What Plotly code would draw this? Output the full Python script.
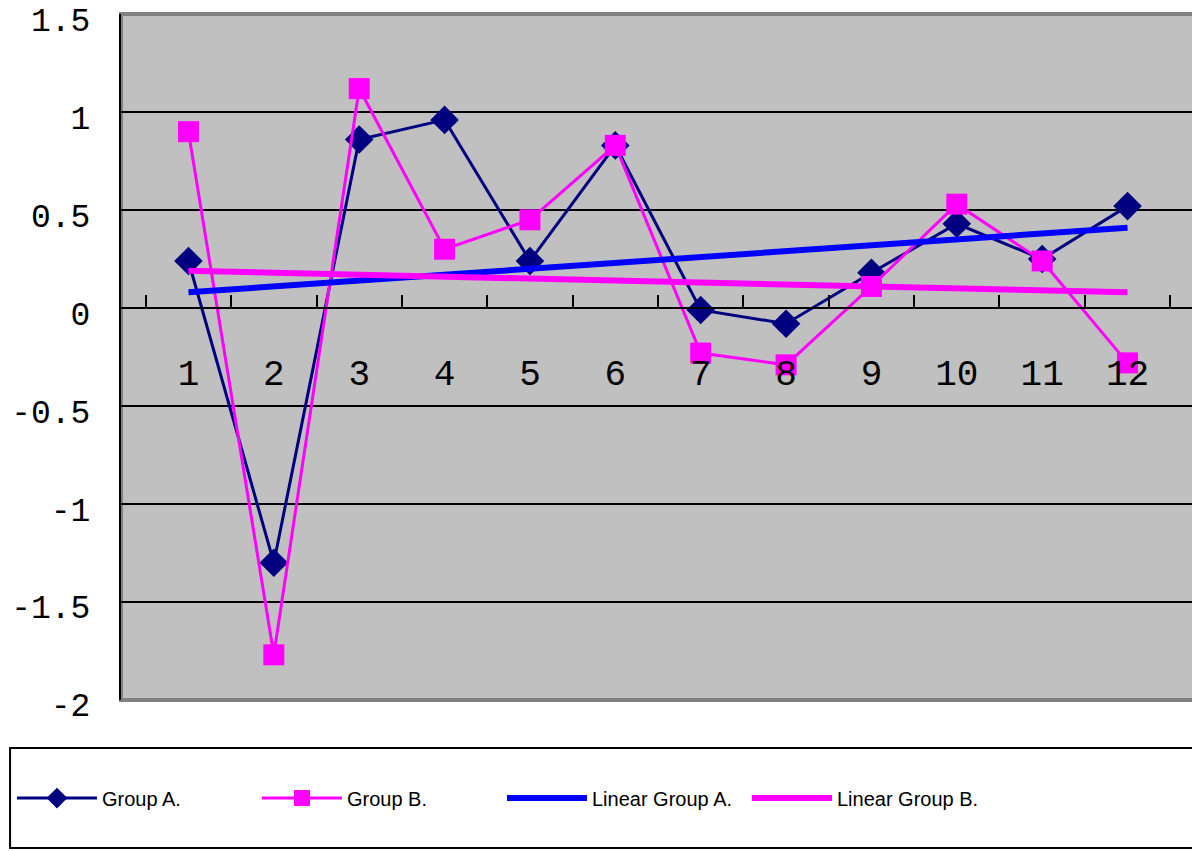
import plotly.graph_objects as go

# category labels and series
months = [str(i) for i in range(1, 13)]
group_a = [0.24, -1.30, 0.86, 0.96, 0.24, 0.83, -0.01, -0.08, 0.18, 0.43, 0.25, 0.52]
group_b = [0.90, -1.77, 1.12, 0.30, 0.45, 0.83, -0.23, -0.29, 0.11, 0.53, 0.24, -0.28]

# linear trend endpoints (first and last category)
trend_x = ["1", "12"]
trend_a = [0.08, 0.41]
trend_b = [0.19, 0.08]

y_ticks = [1.5, 1, 0.5, 0, -0.5, -1, -1.5, -2]
y_tick_text = ["1.5", "1", "0.5", "0", "-0.5", "-1", "-1.5", "-2"]

NAVY = "#000080"
MAGENTA = "#FF00FF"
BLUE = "#0000FF"
MONO = "Liberation Mono, DejaVu Sans Mono, monospace"

fig = go.Figure()

fig.add_trace(go.Scatter(
    x=months, y=group_a, mode="lines+markers", name="Group A.",
    line=dict(color=NAVY, width=3),
    marker=dict(symbol="diamond", size=22, color=NAVY)
))
fig.add_trace(go.Scatter(
    x=months, y=group_b, mode="lines+markers", name="Group B.",
    line=dict(color=MAGENTA, width=3),
    marker=dict(symbol="square", size=21, color=MAGENTA)
))
fig.add_trace(go.Scatter(
    x=trend_x, y=trend_a, mode="lines", name="Linear Group A.",
    line=dict(color=BLUE, width=6)
))
fig.add_trace(go.Scatter(
    x=trend_x, y=trend_b, mode="lines", name="Linear Group B.",
    line=dict(color=MAGENTA, width=6)
))

# y range [-2, 1.5] -> zero sits at 2/3.5 of the plot height
zero_pos = 2 / 3.5

# page body keeps an 8px margin, so the figure is sized to fit inside it
fig.update_layout(
    width=1192, height=843,
    margin=dict(l=112, r=5, t=6, b=151),
    paper_bgcolor="white",
    plot_bgcolor="#C0C0C0",
    font=dict(family=MONO, color="black"),
    showlegend=True,
    legend=dict(
        orientation="h", x=-0.1005, xanchor="left", y=-0.143, yanchor="middle",
        font=dict(family="Liberation Sans Narrow, Liberation Sans, Arial", size=20, color="black"),
        bgcolor="rgba(0,0,0,0)", entrywidth=150, itemwidth=80,
        traceorder="normal"
    ),
    xaxis=dict(
        type="category", categoryorder="array", categoryarray=months,
        anchor="free", position=zero_pos, automargin=False,
        showline=True, linecolor="black", linewidth=2,
        ticks="inside", ticklen=12, tickwidth=2, tickcolor="black",
        tickson="boundaries", showgrid=False, zeroline=False,
        ticklabelstandoff=33,
        tickfont=dict(size=36, family=MONO)
    ),
    yaxis=dict(
        range=[-2.0005, 1.5005], tickvals=y_ticks, ticktext=y_tick_text,
        automargin=False, ticklabeloverflow="allow",
        showgrid=True, gridcolor="black", gridwidth=2,
        zeroline=False, showline=True, linecolor="black", linewidth=2,
        ticks="inside", ticklen=10, tickcolor="black", tickwidth=2,
        ticklabelstandoff=22, ticklabelshift=5,
        tickfont=dict(size=33, family=MONO)
    ),
    shapes=[
        # gray frame around the plot area
        dict(type="rect", xref="paper", yref="paper", x0=0, x1=1, y0=0, y1=1,
             line=dict(color="#808080", width=4), layer="below"),
        # legend box
        dict(type="rect", xref="paper", yref="paper",
             x0=-0.1033, x1=1.0, y0=-0.2157, y1=-0.07,
             line=dict(color="black", width=2))
    ]
)

fig.write_html("out.html")
